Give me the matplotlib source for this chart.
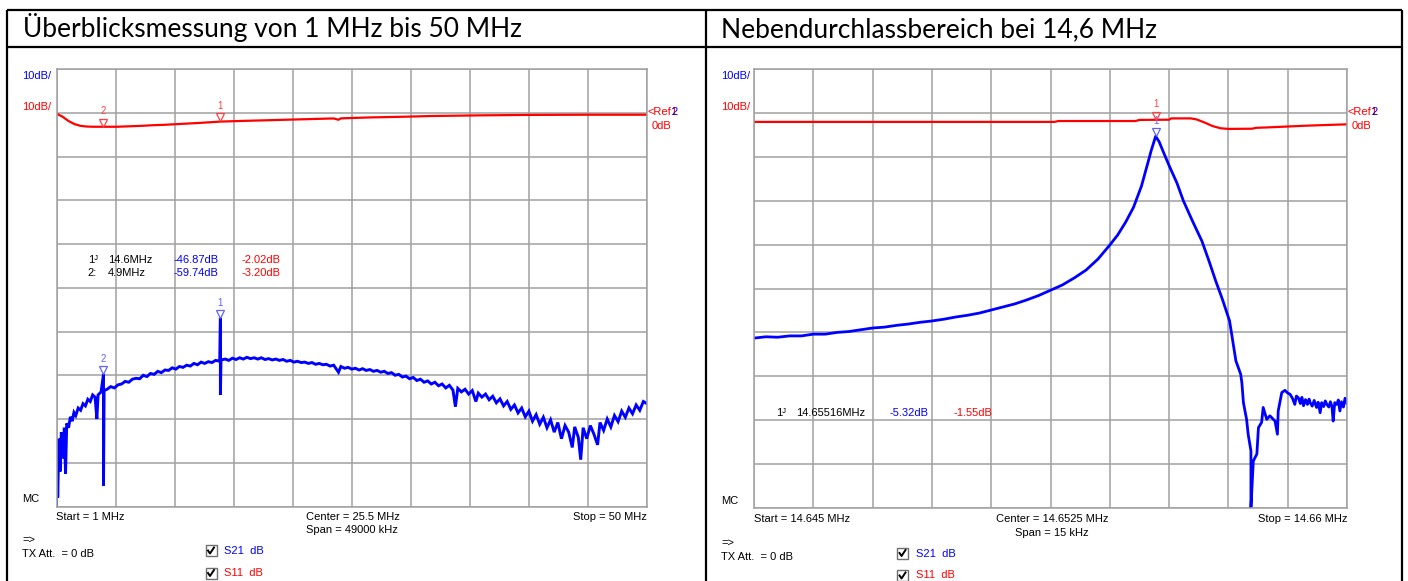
import numpy as np
import matplotlib
matplotlib.use("Agg")
import matplotlib.pyplot as plt
from matplotlib.patches import Rectangle
from matplotlib.transforms import offset_copy

plt.rcParams['font.family'] = ['Liberation Sans', 'DejaVu Sans']

W, H = 1408, 581

########## left: overview 1 MHz .. 50 MHz ##########
left_title = "Überblicksmessung von 1 MHz bis 50 MHz"
left_start, left_stop = 1.0, 50.0

left_freq = [
    1.00, 1.05, 1.10, 1.20, 1.30, 1.40, 1.55, 1.65, 1.75, 1.85,
    2.00, 2.15, 2.30, 2.45, 2.60, 2.80, 3.00, 3.20, 3.40, 3.60,
    3.80, 4.00, 4.20, 4.35, 4.45, 4.70, 4.90, 4.90, 4.95, 5.20,
    5.50, 5.80, 6.10, 6.40, 6.70, 7.00, 7.30, 7.60, 7.90, 8.20,
    8.50, 8.80, 9.10, 9.40, 9.70, 10.0, 10.3, 10.6, 10.9, 11.2,
    11.5, 11.8, 12.1, 12.4, 12.7, 13.0, 13.3, 13.6, 13.9, 14.2,
    14.55, 14.60, 14.60, 14.65, 15.0, 15.3, 15.6, 15.9, 16.2, 16.5,
    16.8, 17.1, 17.4, 17.7, 18.0, 18.3, 18.6, 18.9, 19.2, 19.5,
    19.8, 20.1, 20.4, 20.7, 21.0, 21.3, 21.6, 21.9, 22.2, 22.5,
    22.8, 23.1, 23.4, 23.7, 24.0, 24.4, 24.6, 24.9, 25.2, 25.5,
    25.8, 26.1, 26.4, 26.7, 27.0, 27.3, 27.6, 27.9, 28.2, 28.5,
    28.8, 29.1, 29.4, 29.7, 30.0, 30.3, 30.6, 30.9, 31.2, 31.5,
    31.8, 32.1, 32.4, 32.7, 33.0, 33.3, 33.6, 33.9, 34.1, 34.3,
    34.6, 34.9, 35.2, 35.5, 35.8, 36.0, 36.3, 36.6, 36.9, 37.2,
    37.5, 37.8, 38.1, 38.4, 38.7, 39.0, 39.3, 39.6, 39.9, 40.2,
    40.5, 40.8, 41.1, 41.4, 41.7, 42.0, 42.3, 42.6, 42.9, 43.2,
    43.5, 43.8, 44.0, 44.3, 44.5, 44.7, 45.0, 45.3, 45.6, 45.9,
    46.1, 46.4, 46.7, 47.0, 47.3, 47.6, 47.9, 48.2, 48.5, 48.8,
    49.1, 49.4, 49.7, 50.0,
]
left_s21 = [
    -90.0, -76.0, -88.0, -74.5, -82.0, -73.0, -79.0, -72.0, -82.5, -71.0,
    -72.0, -69.5, -70.5, -68.5, -69.2, -67.5, -68.0, -66.5, -67.0, -65.5,
    -66.0, -64.5, -65.0, -70.0, -64.5, -63.8, -59.74, -85.2, -63.5, -63.2,
    -62.6, -62.9, -62.2, -62.0, -61.4, -61.6, -60.9, -60.7, -60.8, -60.0,
    -60.3, -59.6, -59.8, -59.1, -59.4, -58.8, -58.9, -58.3, -58.6, -58.0,
    -58.2, -57.7, -57.9, -57.3, -57.6, -57.0, -57.3, -56.9, -57.1, -56.6,
    -56.8, -46.87, -64.5, -56.5, -56.3, -56.6, -56.1, -56.4, -56.0, -56.3,
    -55.9, -56.2, -56.0, -56.3, -56.0, -56.4, -56.2, -56.5, -56.3, -56.6,
    -56.4, -56.8, -56.6, -57.0, -56.8, -57.1, -57.0, -57.3, -57.1, -57.5,
    -57.3, -57.6, -57.5, -57.9, -57.7, -59.3, -58.0, -58.4, -58.2, -58.6,
    -58.4, -58.8, -58.5, -58.9, -58.7, -59.1, -58.9, -59.3, -59.1, -59.6,
    -59.4, -60.0, -59.8, -60.4, -60.2, -60.8, -60.5, -61.2, -60.9, -61.6,
    -61.3, -62.0, -61.6, -62.4, -62.0, -62.9, -62.3, -63.4, -67.2, -63.0,
    -63.8, -63.2, -64.3, -63.5, -66.0, -64.1, -65.0, -64.3, -65.6, -64.8,
    -66.3, -65.4, -67.0, -66.0, -67.8, -66.8, -68.6, -67.5, -69.5, -68.2,
    -70.5, -69.0, -71.2, -69.6, -72.0, -70.2, -73.0, -70.8, -74.5, -71.5,
    -73.0, -76.5, -71.8, -74.2, -79.3, -72.0, -74.5, -71.5, -73.5, -75.9,
    -70.8, -72.6, -70.0, -71.8, -69.2, -70.6, -68.2, -69.6, -67.5, -68.8,
    -66.8, -68.0, -66.0, -66.5,
]
left_s11_freq = [1.0, 1.5, 2.0, 2.5, 3.0, 3.5, 4.0, 4.9, 6.0, 7.0, 8.0, 9.0, 10.0,
                 11.0, 12.0, 13.0, 14.6, 16.0, 18.0, 20.0, 22.0, 24.0, 24.4, 24.6,
                 27.0, 30.0, 32.0, 36.0, 40.0, 45.0, 50.0]
left_s11 = [-0.2, -0.9, -1.9, -2.6, -3.0, -3.15, -3.2, -3.2, -3.2, -3.1, -3.0, -2.85, -2.75,
            -2.6, -2.45, -2.3, -2.02, -1.9, -1.75, -1.6, -1.45, -1.3, -1.6, -1.28,
            -1.07, -0.9, -0.75, -0.6, -0.5, -0.45, -0.45]
left_mk_freq = [14.6, 4.9]
left_mk_s21 = [-46.87, -59.74]
left_mk_s11 = [-2.02, -3.20]

########## right: spurious passband at 14.6 MHz ##########
right_title = "Nebendurchlassbereich bei 14,6 MHz"
right_start, right_stop = 14.645, 14.660

# offset from start in kHz
right_khz = [
    0.0, 0.3, 0.6, 0.9, 1.2, 1.5, 1.8, 2.1, 2.4, 2.7,
    3.0, 3.3, 3.6, 3.9, 4.2, 4.5, 4.8, 5.1, 5.4, 5.7,
    6.0, 6.3, 6.6, 6.9, 7.2, 7.5, 7.8, 8.1, 8.4, 8.7,
    9.0, 9.2, 9.4, 9.6, 9.8, 9.95, 10.05, 10.16, 10.25, 10.35,
    10.5, 10.7, 10.86, 11.1, 11.33, 11.5, 11.68, 11.85, 12.03, 12.19,
    12.31, 12.34, 12.38, 12.46, 12.50, 12.57, 12.57, 12.63, 12.72, 12.76,
    12.84, 12.88, 12.97, 13.05, 13.18, 13.24, 13.26, 13.35, 13.43, 13.50,
    13.56, 13.62, 13.68, 13.72, 13.77, 13.82, 13.86, 13.90, 13.95, 14.00,
    14.04, 14.07, 14.12, 14.17, 14.23, 14.27, 14.32, 14.36, 14.41, 14.45,
    14.49, 14.54, 14.58, 14.62, 14.65, 14.69, 14.74, 14.78, 14.82, 14.86,
    14.91, 14.95, 15.0,
]
right_s21 = [
    -51.3, -51.0, -51.1, -50.8, -50.8, -50.4, -50.4, -50.0, -49.8, -49.4,
    -49.0, -48.8, -48.4, -48.1, -47.7, -47.4, -47.0, -46.5, -46.1, -45.6,
    -44.9, -44.2, -43.5, -42.6, -41.6, -40.4, -39.2, -37.6, -35.8, -33.3,
    -30.1, -27.8, -24.9, -21.5, -16.7, -11.8, -8.5, -5.32, -6.6, -8.8,
    -12.0, -16.0, -20.0, -24.8, -29.2, -33.5, -38.3, -42.5, -47.4, -56.5,
    -59.5, -61.4, -66.0, -69.8, -73.2, -77.0, -90.0, -79.3, -77.7, -71.7,
    -70.5, -67.1, -69.8, -69.0, -70.2, -73.2, -67.9, -63.7, -63.2, -63.8,
    -64.1, -65.0, -66.4, -64.5, -64.9, -66.2, -64.8, -66.7, -65.3, -66.4,
    -65.2, -66.0, -66.8, -65.5, -67.1, -65.9, -68.3, -66.0, -66.9, -65.6,
    -66.4, -67.0, -65.8, -66.9, -70.2, -66.0, -66.4, -65.4, -67.9, -65.8,
    -67.0, -65.0, -66.2,
]
right_s11_khz = [0.0, 7.6, 7.7, 9.65, 9.75, 10.5, 10.55, 11.05, 11.2, 11.4,
                 11.6, 11.8, 12.0, 12.6, 12.7, 13.0, 13.5, 14.0, 14.5, 15.0]
right_s11 = [-2.05, -2.05, -1.85, -1.85, -1.6, -1.55, -1.25, -1.25, -1.5, -2.2,
             -3.0, -3.5, -3.65, -3.6, -3.4, -3.3, -3.1, -2.9, -2.75, -2.6]
right_mk_freq = [14.65516]
right_mk_s21 = [-5.32]
right_mk_s11 = [-1.55]

db_ticks = list(range(-90, 11, 10))

BLUE = '#0000ff'
RED = '#ff0000'
GRID = '#a0a0a0'

fig = plt.figure(figsize=(W / 100, H / 100), dpi=100)


def px_axes(x0, y0, x1, y1):
    return fig.add_axes([x0 / W, 1 - y1 / H, (x1 - x0) / W, (y1 - y0) / H])


def setup(ax, f0, f1):
    ax.set_xlim(f0, f1)
    ax.set_ylim(-90, 10)
    ax.set_xticks(np.linspace(f0, f1, 11))
    ax.set_yticks(db_ticks)
    ax.grid(True, color=GRID, lw=1.1)
    ax.set_axisbelow(True)
    ax.tick_params(length=0, labelbottom=False, labelleft=False)
    for s in ax.spines.values():
        s.set_color(GRID)
        s.set_linewidth(1.1)


def marker(ax, f, v, color, label):
    tri = offset_copy(ax.transData, fig=fig, x=0, y=3.0, units='points')
    ax.plot([f], [v], marker='v', ms=5.5, mfc='none', mec=color, mew=0.9,
            transform=tri, clip_on=False, zorder=5)
    ax.annotate(label, (f, v), xytext=(0, 11), textcoords='offset points',
                ha='center', va='center', color=color, fontsize=7, zorder=5)


# left plot
axl = px_axes(56.5, 69, 647, 506.5)
setup(axl, left_start, left_stop)
axl.plot(left_freq, left_s21, color=BLUE, lw=2.1, solid_joinstyle='miter')
for i, (f, v) in enumerate(zip(left_mk_freq, left_mk_s21)):
    marker(axl, f, v, '#6060ff', str(i + 1))
axl.plot(left_s11_freq, left_s11, color=RED, lw=1.6)
for i, (f, v) in enumerate(zip(left_mk_freq, left_mk_s11)):
    marker(axl, f, v, '#ff4040', str(i + 1))

# right plot
right_freq = [right_start + k / 1000 for k in right_khz]
right_s11_freq = [right_start + k / 1000 for k in right_s11_khz]
axr = px_axes(754, 69, 1347, 508)
setup(axr, right_start, right_stop)
axr.plot(right_freq, right_s21, color=BLUE, lw=2.0)
for i, (f, v) in enumerate(zip(right_mk_freq, right_mk_s21)):
    marker(axr, f, v, '#6060ff', str(i + 1))
axr.plot(right_s11_freq, right_s11, color=RED, lw=1.6)
for i, (f, v) in enumerate(zip(right_mk_freq, right_mk_s11)):
    marker(axr, f, v, '#ff4040', str(i + 1))

########## overlay in pixel coordinates: table frame and texts ##########
ov = fig.add_axes([0, 0, 1, 1])
ov.set_xlim(0, W)
ov.set_ylim(H, 0)
ov.axis('off')
ov.patch.set_visible(False)

lk = dict(color='black', lw=1.6, solid_capstyle='butt')
ov.plot([7, 1402], [10, 10], **lk)
ov.plot([7, 1402], [47, 47], **lk)
ov.plot([7, 7], [10, H], **lk)
ov.plot([706, 706], [10, H], **lk)
ov.plot([1402, 1402], [10, H], **lk)

ov.text(23, 37, left_title, family='Lato', fontsize=19, va='baseline')
ov.text(721, 37, right_title, family='Lato', fontsize=19, va='baseline')

fs = 8


def t(x, y, s, c='black', ha='left'):
    ov.text(x, y, s, color=c, fontsize=fs, ha=ha, va='center')


def checkbox(x, y):
    ov.add_patch(Rectangle((x, y), 11, 11, facecolor='white', edgecolor='#707070', lw=1.0))
    ov.plot([x + 2.5, x + 4.5, x + 8.5], [y + 5.5, y + 8.5, y + 2.5], color='black', lw=1.4)


def panel_text(dx, dy, plot_left, plot_right, start_s, center_s, span_s, stop_s,
               mk_rows, mk_y, mk_x):
    t(22.5 + dx, 76, "10dB/", BLUE)
    t(22.5 + dx, 107.5, "10dB/", RED)
    t(plot_right + 1, 112.3, "<Ref", RED)
    t(plot_right + 23, 112.3, "1", RED)
    t(plot_right + 24, 112.3, "2", BLUE)
    t(plot_right + 5, 126, "0dB", RED)
    for j, row in enumerate(mk_rows):
        y = mk_y + j * 13.3
        for (x, s, c) in zip(mk_x, row, ['black', 'black', BLUE, RED]):
            t(x, y, s, c)
    t(22.5 + dx, 499 + dy, "MC")
    t(plot_left, 516.7 + dy, start_s)
    t(center_s[0], 516.7 + dy, center_s[1])
    t(span_s[0], 530 + dy, span_s[1])
    t(plot_right, 516.7 + dy, stop_s, ha='right')
    t(22.5 + dx, 540 + dy, "=>")
    t(22.5 + dx, 554 + dy, "TX Att.  = 0 dB")
    checkbox(205.5 + dx * 0.99, 543.5 + dy + 1.5)
    checkbox(205.5 + dx * 0.99, 567 + dy + 0.5)
    t(224.5 + dx * 0.99, 550 + dy + 1.5, "S21  dB", BLUE)
    t(224.5 + dx * 0.99, 572.5 + dy + 0.5, "S11  dB", RED)


left_rows = [["1\u1d36" if i == 0 else f"{i + 1}:", f"{f:g}MHz", f"{a:.2f}dB", f"{b:.2f}dB"]
             for i, (f, a, b) in enumerate(zip(left_mk_freq, left_mk_s21, left_mk_s11))]
panel_text(0, 0, 56.5, 647, f"Start = {left_start:g} MHz",
           (306, f"Center = {(left_start + left_stop) / 2:g} MHz"),
           (306, f"Span = {(left_stop - left_start) * 1000:.0f} kHz"),
           f"Stop = {left_stop:g} MHz", left_rows, 260, [87.6, 108, 173.8, 241.6])

right_rows = [["1\u1d36", f"{f:.5f}MHz", f"{a:.2f}dB", f"{b:.2f}dB"]
              for f, a, b in zip(right_mk_freq, right_mk_s21, right_mk_s11)]
panel_text(698.5, 2.5, 754, 1347, f"Start = {right_start:g} MHz",
           (996, f"Center = {(right_start + right_stop) / 2:g} MHz"),
           (1015, f"Span = {(right_stop - right_start) * 1000:.0f} kHz"),
           f"Stop = {right_stop:g} MHz", right_rows, 413, [775.8, 796, 890, 953])

fig.savefig('out.png', dpi=100)
